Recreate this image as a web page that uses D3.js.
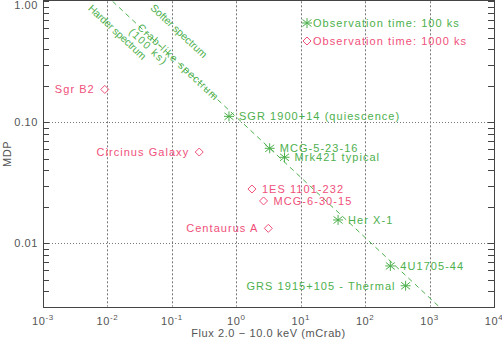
<!DOCTYPE html>
<html>
<head>
<meta charset="utf-8">
<script src="https://cdn.jsdelivr.net/npm/d3@7"></script>
<style>
  body { margin: 0; background: #fff; }
  svg { display: block; font-family: "Liberation Sans", Arial, sans-serif; }
  .lbl { font-size: 11px; letter-spacing: 1.05px; }
  .axis-text { font-size: 11px; fill: #555; letter-spacing: 0.6px; }
</style>
</head>
<body>
<div id="chart"></div>
<script>
// sources observed for 100 ks (green asterisks)
const ksNames = ["SGR 1900+14 (quiescence)", "MCG-5-23-16", "Mrk421 typical", "Her X-1", "4U1705-44", "GRS 1915+105 - Thermal"];
const ksFlux = [0.77, 3.3, 5.6, 38, 246, 425];
const ksMdp = [0.112, 0.061, 0.0514, 0.0156, 0.0065, 0.00446];
const ksSide = ["right", "right", "right", "right", "right", "left"];

// sources observed for 1000 ks (red diamonds)
const msNames = ["Sgr B2", "Circinus Galaxy", "1ES 1101-232", "MCG-6-30-15", "Centaurus A"];
const msFlux = [0.0091, 0.266, 1.75, 2.65, 3.14];
const msMdp = [0.187, 0.0568, 0.0281, 0.0224, 0.0133];
const msSide = ["left", "left", "right", "right", "left"];

// crab-like spectrum line endpoints
const crabFlux = [0.012, 1400];
const crabMdp = [1.0, 0.003];

const xTicks = [1e-3, 1e-2, 1e-1, 1e0, 1e1, 1e2, 1e3, 1e4];
const xTickExp = ["-3", "-2", "-1", "0", "1", "2", "3", "4"];
const yTicks = [1, 0.1, 0.01];
const yTickLabels = ["1.00", "0.10", "0.01"];

// rotated annotations near the crab line (start point in data units)
const noteText = ["Harder spectrum", "Softer spectrum", "Crab-like spectrum", "(100 ks)"];
const noteFlux = [0.0054, 0.05, 0.0315, 0.0233];
const noteMdp = [0.91, 0.916, 0.633, 0.582];
const noteSize = [10.5, 10.5, 10.5, 10.5];
const noteLen = [75, 73, 106, 47];

const green = "#4db04d";
const red = "#f0507a";

const width = 502, height = 340;
const mLeft = 43, mRight = 494, mTop = 1.3, mBottom = 306.6;

const svg = d3.select("#chart").append("svg")
  .attr("width", width).attr("height", height);

const x = d3.scaleLog().domain([1e-3, 1e4]).range([mLeft, mRight]);
const y = d3.scaleLog().domain([0.003, 1]).range([mBottom, mTop]);

// clip region for the plot
svg.append("clipPath").attr("id", "clip")
  .append("rect").attr("x", mLeft).attr("y", mTop)
  .attr("width", mRight - mLeft).attr("height", mBottom - mTop);

// grid lines
svg.append("g").selectAll("line")
  .data(xTicks.slice(1, -1))
  .enter().append("line")
  .attr("x1", d => Math.round(x(d)) + 0.5).attr("x2", d => Math.round(x(d)) + 0.5)
  .attr("y1", mTop).attr("y2", mBottom)
  .attr("stroke", "#777").attr("stroke-dasharray", "2,2");

svg.append("g").selectAll("line")
  .data(yTicks.slice(1))
  .enter().append("line")
  .attr("x1", mLeft).attr("x2", mRight)
  .attr("y1", d => Math.round(y(d)) + 0.5).attr("y2", d => Math.round(y(d)) + 0.5)
  .attr("stroke", "#777").attr("stroke-dasharray", "1,2");

// minor y ticks on left and right
const minor = [];
[0.001, 0.01, 0.1].forEach(dec => {
  for (let m = 2; m <= 9; m++) {
    const v = dec * m;
    if (v >= 0.003 && v < 1) minor.push(v);
  }
});
const tickG = svg.append("g").attr("stroke", "#444");
tickG.selectAll(".ml").data(minor.concat(yTicks)).enter().append("line")
  .attr("x1", mLeft).attr("x2", mLeft + 6)
  .attr("y1", d => Math.round(y(d)) + 0.5).attr("y2", d => Math.round(y(d)) + 0.5);
tickG.selectAll(".mr").data(minor.concat(yTicks)).enter().append("line")
  .attr("x1", mRight - 6).attr("x2", mRight)
  .attr("y1", d => Math.round(y(d)) + 0.5).attr("y2", d => Math.round(y(d)) + 0.5);

// frame
svg.append("rect")
  .attr("x", mLeft + 0.5).attr("y", 0.5)
  .attr("width", mRight - mLeft).attr("height", Math.round(mBottom))
  .attr("fill", "none").attr("stroke", "#444");

// x tick labels
const xl = svg.append("g").attr("class", "axis-text");
xTicks.forEach((t, i) => {
  const txt = xl.append("text")
    .attr("x", x(t)).attr("y", 325)
    .attr("text-anchor", "middle");
  txt.append("tspan").text("10");
  txt.append("tspan").attr("dy", -5).attr("font-size", 8).text(xTickExp[i]);
});

// y tick labels (top one kept inside the picture)
svg.append("g").selectAll("text")
  .data(yTicks).enter().append("text")
  .attr("class", "axis-text")
  .attr("x", 38).attr("y", d => Math.max(y(d), 5))
  .attr("dy", "0.35em")
  .attr("text-anchor", "end")
  .text((d, i) => yTickLabels[i]);

// axis titles
svg.append("text").attr("class", "axis-text")
  .attr("x", (mLeft + mRight) / 2).attr("y", 337)
  .attr("text-anchor", "middle")
  .text("Flux 2.0 \u2212 10.0 keV (mCrab)");

svg.append("text").attr("class", "axis-text")
  .attr("transform", `translate(11, ${(mTop + mBottom) / 2}) rotate(-90)`)
  .attr("text-anchor", "middle")
  .text("MDP");

const plot = svg.append("g").attr("clip-path", "url(#clip)");

// crab-like line
const line = d3.line().x(d => x(d[0])).y(d => y(d[1]));
plot.append("path")
  .datum(crabFlux.map((f, i) => [f, crabMdp[i]]))
  .attr("d", line)
  .attr("fill", "none")
  .attr("stroke", green)
  .attr("stroke-dasharray", "5,4");

// rotated annotations, parallel to the crab line
const angle = Math.atan2(y(crabMdp[1]) - y(crabMdp[0]), x(crabFlux[1]) - x(crabFlux[0])) * 180 / Math.PI;
noteText.forEach((t, i) => {
  plot.append("text")
    .attr("fill", green)
    .attr("font-size", noteSize[i])
    .attr("dominant-baseline", "central")
    .attr("textLength", noteLen[i])
    .attr("lengthAdjust", "spacing")
    .attr("transform", `translate(${x(noteFlux[i])}, ${y(noteMdp[i])}) rotate(${angle})`)
    .text(t);
});

// markers
const asterisk = "M0,-5L0,5M-4.5,-3.5L4.5,3.5M-4.5,3.5L4.5,-3.5M-5,0L5,0";
const diamond = "M0,-4L4,0L0,4L-4,0Z";

const ks = ksNames.map((n, i) => ({ name: n, f: ksFlux[i], m: ksMdp[i], side: ksSide[i] }));
const ms = msNames.map((n, i) => ({ name: n, f: msFlux[i], m: msMdp[i], side: msSide[i] }));

svg.append("g").selectAll("path").data(ks).enter().append("path")
  .attr("d", asterisk)
  .attr("transform", d => `translate(${x(d.f)}, ${y(d.m)})`)
  .attr("stroke", green).attr("fill", "none");

svg.append("g").selectAll("path").data(ms).enter().append("path")
  .attr("d", diamond)
  .attr("transform", d => `translate(${x(d.f)}, ${y(d.m)})`)
  .attr("stroke", red).attr("fill", "none");

// point labels
svg.append("g").selectAll("text").data(ks).enter().append("text")
  .attr("class", "lbl").attr("fill", green)
  .attr("x", d => x(d.f) + (d.side === "right" ? 10 : -10))
  .attr("y", d => y(d.m)).attr("dy", "0.35em")
  .attr("text-anchor", d => d.side === "right" ? "start" : "end")
  .text(d => d.name);

svg.append("g").selectAll("text").data(ms).enter().append("text")
  .attr("class", "lbl").attr("fill", red)
  .attr("x", d => x(d.f) + (d.side === "right" ? 10 : -10))
  .attr("y", d => y(d.m)).attr("dy", "0.35em")
  .attr("text-anchor", d => d.side === "right" ? "start" : "end")
  .text(d => d.name);

// legend
const legend = svg.append("g").attr("transform", "translate(307, 23)");
legend.append("path").attr("d", asterisk).attr("stroke", green).attr("fill", "none");
legend.append("text").attr("class", "lbl").attr("fill", green)
  .attr("x", 6).attr("dy", "0.35em").text("Observation time: 100 ks");
legend.append("path").attr("d", diamond).attr("transform", "translate(0, 18)")
  .attr("stroke", red).attr("fill", "none");
legend.append("text").attr("class", "lbl").attr("fill", red)
  .attr("x", 6).attr("y", 18).attr("dy", "0.35em").text("Observation time: 1000 ks");
</script>
</body>
</html>
